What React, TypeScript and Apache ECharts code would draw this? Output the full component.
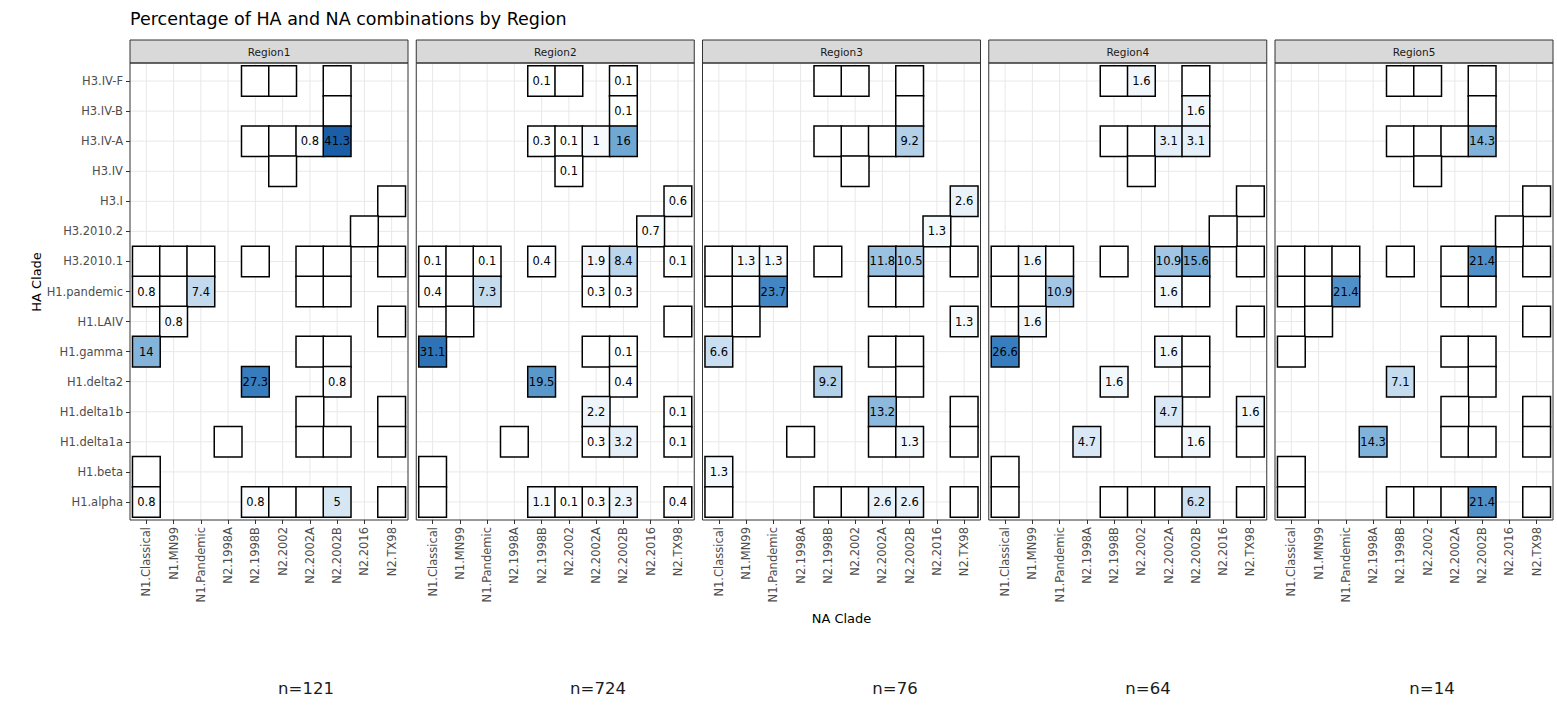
import React, { useEffect, useRef } from "react";
import * as echarts from "echarts";

// ---------------- data ----------------
const naClades = [
  "N1.Classical", "N1.MN99", "N1.Pandemic", "N2.1998A", "N2.1998B",
  "N2.2002", "N2.2002A", "N2.2002B", "N2.2016", "N2.TX98",
];
const haClades = [
  "H3.IV-F", "H3.IV-B", "H3.IV-A", "H3.IV", "H3.I", "H3.2010.2", "H3.2010.1",
  "H1.pandemic", "H1.LAIV", "H1.gamma", "H1.delta2", "H1.delta1b", "H1.delta1a",
  "H1.beta", "H1.alpha",
];
const regionNames = ["Region1", "Region2", "Region3", "Region4", "Region5"];
const regionCounts = ["n=121", "n=724", "n=76", "n=64", "n=14"];

// HA / NA combinations present in the data (one entry per tile)
const cellHA = [
  "H3.IV-F", "H3.IV-F", "H3.IV-F", "H3.IV-B", "H3.IV-A", "H3.IV-A", "H3.IV-A", "H3.IV-A",
  "H3.IV", "H3.I", "H3.2010.2",
  "H3.2010.1", "H3.2010.1", "H3.2010.1", "H3.2010.1", "H3.2010.1", "H3.2010.1", "H3.2010.1",
  "H1.pandemic", "H1.pandemic", "H1.pandemic", "H1.pandemic", "H1.pandemic",
  "H1.LAIV", "H1.LAIV", "H1.gamma", "H1.gamma", "H1.gamma", "H1.delta2", "H1.delta2",
  "H1.delta1b", "H1.delta1b", "H1.delta1a", "H1.delta1a", "H1.delta1a", "H1.delta1a",
  "H1.beta", "H1.alpha", "H1.alpha", "H1.alpha", "H1.alpha", "H1.alpha", "H1.alpha",
];
const cellNA = [
  "N2.1998B", "N2.2002", "N2.2002B", "N2.2002B", "N2.1998B", "N2.2002", "N2.2002A", "N2.2002B",
  "N2.2002", "N2.TX98", "N2.2016",
  "N1.Classical", "N1.MN99", "N1.Pandemic", "N2.1998B", "N2.2002A", "N2.2002B", "N2.TX98",
  "N1.Classical", "N1.MN99", "N1.Pandemic", "N2.2002A", "N2.2002B",
  "N1.MN99", "N2.TX98", "N1.Classical", "N2.2002A", "N2.2002B", "N2.1998B", "N2.2002B",
  "N2.2002A", "N2.TX98", "N2.1998A", "N2.2002A", "N2.2002B", "N2.TX98",
  "N1.Classical", "N1.Classical", "N2.1998B", "N2.2002", "N2.2002A", "N2.2002B", "N2.TX98",
];

// percentages per region, in the same order as the tiles above (0 = none)
const region1Pct = [
  0, 0, 0, 0, 0, 0, 0.8, 41.3, 0, 0, 0,
  0, 0, 0, 0, 0, 0, 0,
  0.8, 0, 7.4, 0, 0,
  0.8, 0, 14, 0, 0, 27.3, 0.8,
  0, 0, 0, 0, 0, 0,
  0, 0.8, 0.8, 0, 0, 5, 0,
];
const region2Pct = [
  0.1, 0, 0.1, 0.1, 0.3, 0.1, 1, 16, 0.1, 0.6, 0.7,
  0.1, 0, 0.1, 0.4, 1.9, 8.4, 0.1,
  0.4, 0, 7.3, 0.3, 0.3,
  0, 0, 31.1, 0, 0.1, 19.5, 0.4,
  2.2, 0.1, 0, 0.3, 3.2, 0.1,
  0, 0, 1.1, 0.1, 0.3, 2.3, 0.4,
];
const region3Pct = [
  0, 0, 0, 0, 0, 0, 0, 9.2, 0, 2.6, 1.3,
  0, 1.3, 1.3, 0, 11.8, 10.5, 0,
  0, 0, 23.7, 0, 0,
  0, 1.3, 6.6, 0, 0, 9.2, 0,
  13.2, 0, 0, 0, 1.3, 0,
  1.3, 0, 0, 0, 2.6, 2.6, 0,
];
const region4Pct = [
  0, 1.6, 0, 1.6, 0, 0, 3.1, 3.1, 0, 0, 0,
  0, 1.6, 0, 0, 10.9, 15.6, 0,
  0, 0, 10.9, 1.6, 0,
  1.6, 0, 26.6, 1.6, 0, 1.6, 0,
  4.7, 1.6, 4.7, 0, 1.6, 0,
  0, 0, 0, 0, 0, 6.2, 0,
];
const region5Pct = [
  0, 0, 0, 0, 0, 0, 0, 14.3, 0, 0, 0,
  0, 0, 0, 0, 0, 21.4, 0,
  0, 0, 21.4, 0, 0,
  0, 0, 0, 0, 0, 7.1, 0,
  0, 0, 14.3, 0, 0, 0,
  0, 0, 0, 0, 0, 21.4, 0,
];
const regionPct = [region1Pct, region2Pct, region3Pct, region4Pct, region5Pct];

// ---------------- layout / style ----------------
const FONT = '"DejaVu Sans", "Liberation Sans", Arial, sans-serif';
const PANEL_W = 278;
const PANEL_GAP = 8.25;
const PANEL_LEFT0 = 130;
const PANEL_TOP = 63;
const PANEL_H = 457;
const STRIP_H = 23;
const UX = PANEL_W / 10.2;
const UY = PANEL_H / 15.2;
const nCenters = [306, 598, 895, 1148, 1432];

const panelLeft = (k: number) => PANEL_LEFT0 + k * (PANEL_W + PANEL_GAP);

export default function App() {
  const ref = useRef<HTMLDivElement>(null);

  useEffect(() => {
    document.body.style.margin = "0";
    if (!ref.current) return;
    const chart = echarts.init(ref.current, undefined, { renderer: "svg" });

    const grids: any[] = [];
    const xAxes: any[] = [];
    const yAxes: any[] = [];
    const gridSeries: any[] = [];
    const heatSeries: any[] = [];
    const graphics: any[] = [];

    const gridItems: number[][] = [];
    naClades.forEach((_, i) => gridItems.push([i, 0, 0]));
    haClades.forEach((_, j) => gridItems.push([0, j, 1]));

    regionNames.forEach((name, k) => {
      const pl = panelLeft(k);
      grids.push({
        left: pl + 0.1 * UX,
        top: PANEL_TOP + 0.1 * UY,
        width: 10 * UX,
        height: 15 * UY,
        containLabel: false,
        outerBoundsMode: "none",
      });
      xAxes.push({
        type: "category",
        gridIndex: k,
        data: naClades,
        position: "bottom",
        offset: 0.1 * UY,
        axisLine: { show: false },
        axisTick: { show: true, alignWithLabel: true, length: 4, lineStyle: { color: "#333333", width: 1 } },
        axisLabel: { interval: 0, rotate: 90, fontSize: 11.5, color: "#4d4d4d", margin: 7, fontFamily: FONT },
        splitLine: { show: false },
        name: k === 2 ? "NA Clade" : "",
        nameLocation: "middle",
        nameGap: 92,
        nameTextStyle: { fontSize: 13, color: "#000000", fontFamily: FONT },
      });
      yAxes.push({
        type: "category",
        gridIndex: k,
        data: haClades,
        inverse: true,
        offset: 0.1 * UX,
        axisLine: { show: false },
        axisTick: { show: k === 0, alignWithLabel: true, length: 4, lineStyle: { color: "#333333", width: 1 } },
        axisLabel: { show: k === 0, interval: 0, fontSize: 11.5, color: "#4d4d4d", margin: 7, fontFamily: FONT },
        splitLine: { show: false },
      });

      gridSeries.push({
        type: "custom",
        xAxisIndex: k,
        yAxisIndex: k,
        silent: true,
        z: 1,
        data: gridItems,
        renderItem: (params: any, api: any) => {
          const cs = params.coordSys;
          const p = api.coord([api.value(0), api.value(1)]);
          const padX = cs.width / 100;
          const padY = cs.height / 150;
          const shape =
            api.value(2) === 0
              ? { x1: p[0], y1: cs.y - padY, x2: p[0], y2: cs.y + cs.height + padY }
              : { x1: cs.x - padX, y1: p[1], x2: cs.x + cs.width + padX, y2: p[1] };
          return { type: "line", shape, style: { stroke: "#e8e8e8", lineWidth: 1 }, silent: true };
        },
      });

      const vals = regionPct[k];
      heatSeries.push({
        type: "heatmap",
        xAxisIndex: k,
        yAxisIndex: k,
        z: 3,
        data: cellHA.map((ha, i) => [naClades.indexOf(cellNA[i]), haClades.indexOf(ha), vals[i]]),
        itemStyle: { borderColor: "#000000", borderWidth: 1.5 },
        label: {
          show: true,
          color: "#000000",
          fontSize: 11.5,
          fontFamily: FONT,
          formatter: (p: any) => (p.value[2] > 0 ? String(p.value[2]) : ""),
        },
        emphasis: { disabled: true },
      });

      // strip
      graphics.push({
        type: "rect",
        z: 50,
        shape: { x: pl, y: PANEL_TOP - STRIP_H, width: PANEL_W, height: STRIP_H },
        style: { fill: "#d9d9d9", stroke: "#333333", lineWidth: 1 },
      });
      graphics.push({
        type: "text",
        z: 51,
        x: pl + PANEL_W / 2,
        y: PANEL_TOP - STRIP_H / 2,
        style: {
          text: name,
          fill: "#1a1a1a",
          fontSize: 10.5,
          fontFamily: FONT,
          align: "center",
          verticalAlign: "middle",
        },
      });
      // panel border
      graphics.push({
        type: "rect",
        z: 50,
        shape: { x: pl, y: PANEL_TOP, width: PANEL_W, height: PANEL_H },
        style: { fill: "none", stroke: "#333333", lineWidth: 1 },
      });
      // sample size
      graphics.push({
        type: "text",
        z: 51,
        x: nCenters[k],
        y: 688,
        style: {
          text: regionCounts[k],
          fill: "#1a1a1a",
          fontSize: 16.5,
          fontFamily: FONT,
          align: "center",
          verticalAlign: "middle",
        },
      });
    });

    graphics.push({
      type: "text",
      z: 51,
      x: 130,
      y: 19,
      style: {
        text: "Percentage of HA and NA combinations by Region",
        fill: "#000000",
        fontSize: 17.5,
        fontFamily: FONT,
        align: "left",
        verticalAlign: "middle",
      },
    });
    graphics.push({
      type: "text",
      z: 51,
      x: 36,
      y: 282,
      rotation: Math.PI / 2,
      style: {
        text: "HA Clade",
        fill: "#000000",
        fontSize: 13,
        fontFamily: FONT,
        align: "center",
        verticalAlign: "middle",
      },
    });

    chart.setOption({
      animation: false,
      backgroundColor: "#ffffff",
      textStyle: { fontFamily: FONT },
      grid: grids,
      xAxis: xAxes,
      yAxis: yAxes,
      visualMap: {
        type: "continuous",
        show: false,
        min: 0,
        max: 41.3,
        seriesIndex: [5, 6, 7, 8, 9],
        inRange: { color: ["#ffffff", "#bcd6ec", "#6ba5d2", "#3c82c2", "#2a6eb2", "#1a5ea8"] },
      },
      series: [...gridSeries, ...heatSeries],
      graphic: graphics,
    });

    return () => chart.dispose();
  }, []);

  return <div ref={ref} style={{ width: 1557, height: 727 }} />;
}
